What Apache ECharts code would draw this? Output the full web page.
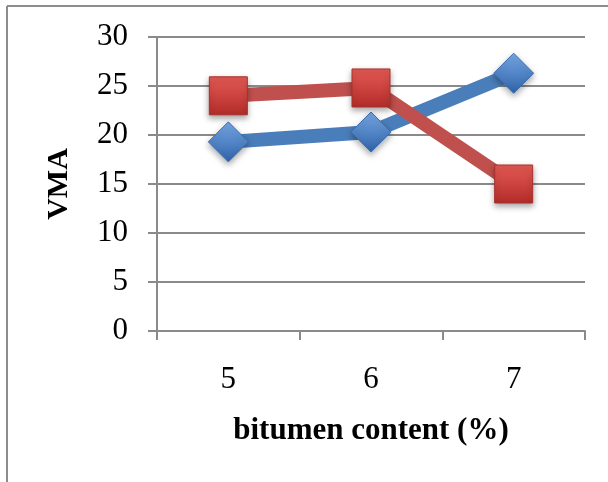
<!DOCTYPE html>
<html>
<head>
<meta charset="utf-8">
<script src="https://cdn.jsdelivr.net/npm/echarts@6/dist/echarts.min.js"></script>
<style>
  html, body { margin: 0; padding: 0; background: #fff; }
  #chart { width: 608px; height: 482px; }
</style>
</head>
<body>
<div id="chart"></div>
<script>
// Bitumen content on the x axis, VMA on the y axis
const categories = ['5', '6', '7'];
const seriesBlue = [19.3, 20.3, 26.3];
const seriesRed = [24.0, 24.8, 15.0];
const yTicks = { min: 0, max: 30, interval: 5 };

const FONT = "'Liberation Serif', 'Times New Roman', serif";
const GRID_COLOR = '#8a8a8a';

function grad(top, bottom) {
  return new echarts.graphic.LinearGradient(0, 0, 0, 1, [
    { offset: 0, color: top },
    { offset: 1, color: bottom }
  ]);
}

const chart = echarts.init(document.getElementById('chart'));
chart.setOption({
  animation: false,
  backgroundColor: '#ffffff',
  graphic: [
    { type: 'line', shape: { x1: 7, y1: 6, x2: 608, y2: 6 }, style: { stroke: '#8c8c8c', lineWidth: 2 } },
    { type: 'line', shape: { x1: 7, y1: 6, x2: 7, y2: 482 }, style: { stroke: '#8c8c8c', lineWidth: 2 } }
  ],
  grid: { left: 157, right: 23, top: 37, bottom: 151 },
  xAxis: {
    type: 'category',
    data: categories,
    boundaryGap: true,
    name: 'bitumen content (%)',
    nameLocation: 'middle',
    nameGap: 84,
    nameTextStyle: { fontFamily: FONT, fontSize: 31, fontWeight: 'bold', color: '#000' },
    axisLine: { lineStyle: { color: GRID_COLOR, width: 2 } },
    axisTick: { show: true, length: 9, alignWithLabel: false, lineStyle: { color: GRID_COLOR, width: 2 } },
    axisLabel: { fontFamily: FONT, fontSize: 31, color: '#000', margin: 33 }
  },
  yAxis: {
    type: 'value',
    min: yTicks.min,
    max: yTicks.max,
    interval: yTicks.interval,
    name: 'VMA',
    nameLocation: 'middle',
    nameRotate: 90,
    nameGap: 83,
    nameTextStyle: { fontFamily: FONT, fontSize: 30, fontWeight: 'bold', color: '#000' },
    axisLine: { show: true, lineStyle: { color: GRID_COLOR, width: 2 } },
    axisTick: { show: true, length: 9, lineStyle: { color: GRID_COLOR, width: 2 } },
    axisLabel: { fontFamily: FONT, fontSize: 31, color: '#000', margin: 29 },
    splitLine: { show: true, lineStyle: { color: GRID_COLOR, width: 2 } }
  },
  series: [
    {
      name: 'blue',
      type: 'line',
      data: seriesBlue,
      symbol: 'diamond',
      symbolSize: [40, 40],
      lineStyle: { color: '#4a7ebb', width: 14, cap: 'round' },
      itemStyle: {
        color: grad('#78a8e6', '#2e63a8'),
        borderColor: '#3c6fb0',
        borderWidth: 1,
        shadowColor: 'rgba(0,0,0,0.35)',
        shadowBlur: 6,
        shadowOffsetY: 3
      },
      z: 2
    },
    {
      name: 'red',
      type: 'line',
      data: seriesRed,
      symbol: 'rect',
      symbolSize: [38, 38],
      lineStyle: { color: '#c0504d', width: 14, cap: 'round' },
      itemStyle: {
        color: grad('#e55a55', '#b32c29'),
        borderColor: '#a8302d',
        borderWidth: 1,
        shadowColor: 'rgba(0,0,0,0.35)',
        shadowBlur: 6,
        shadowOffsetY: 3
      },
      z: 3
    }
  ]
});
</script>
</body>
</html>
